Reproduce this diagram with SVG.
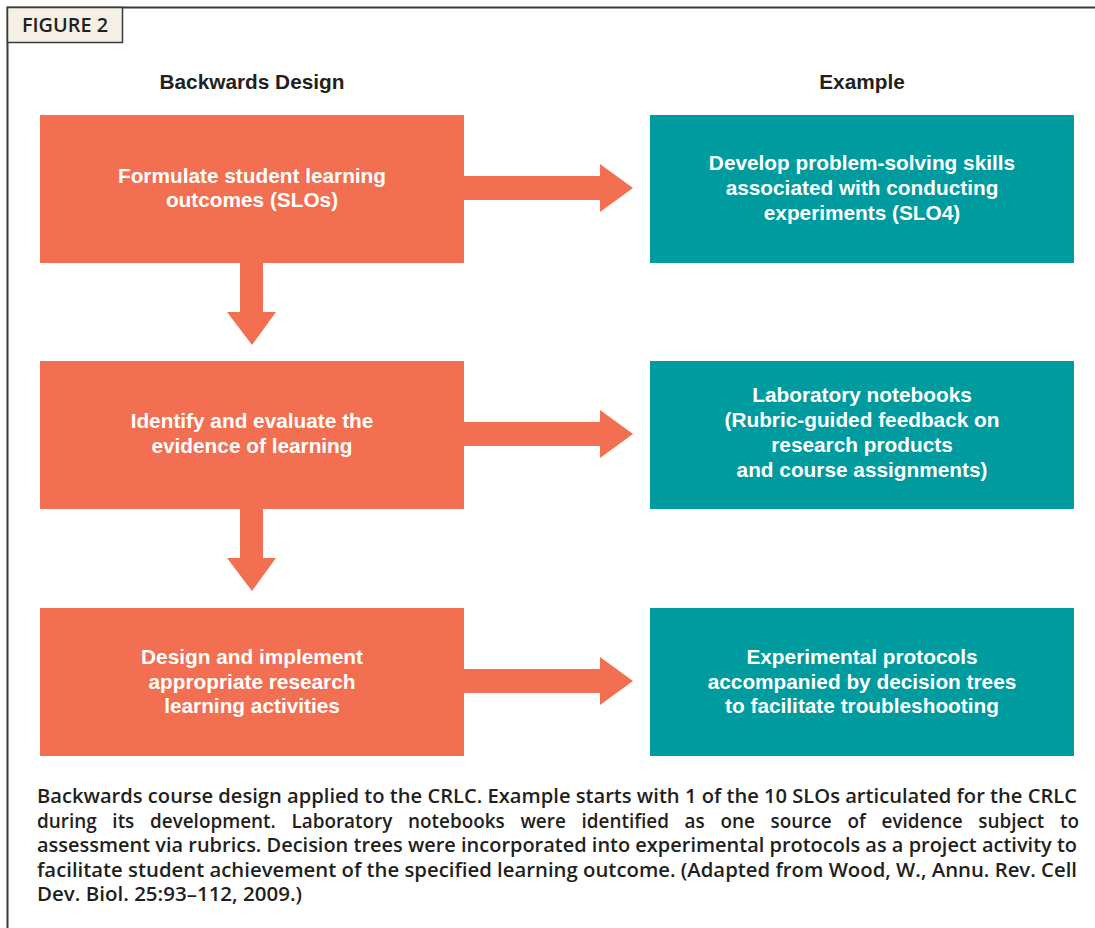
<svg xmlns="http://www.w3.org/2000/svg" width="1095" height="928" viewBox="0 0 1095 928">
<style>
.hdr{font-family:"Liberation Sans",Arial,sans-serif;font-weight:bold;font-size:20.8px;fill:#231f20;text-anchor:middle}
.lbl{font-family:"Liberation Sans",Arial,sans-serif;font-weight:bold;font-size:20.8px;fill:#ffffff;text-anchor:middle}
.cap{font-family:"Open Sans","Noto Sans",sans-serif;font-weight:600;font-size:18.9px;fill:#231f20}
.or{fill:#f26f51}
.te{fill:#009b9f}
</style>
<rect width="1095" height="928" fill="#ffffff"/>
<g id="frame">
<path d="M7.5 928 V7.5 H1095" fill="none" stroke="#3a3a3a" stroke-width="2"/>
<rect x="7.5" y="7.5" width="115" height="35" fill="#f5f0e4" stroke="#3a3a3a" stroke-width="1.5"/>
<text x="22" y="32" font-family="'Open Sans','Noto Sans',sans-serif" font-weight="600" font-size="19" fill="#231f20" textLength="86" lengthAdjust="spacingAndGlyphs">FIGURE 2</text>
</g>
<text class="hdr" x="252" y="89">Backwards Design</text>
<text class="hdr" x="862" y="89">Example</text>
<g id="connectors">
<polygon class="or" points="463,176 600,176 600,164 633,188 600,212 600,200 463,200"/>
<polygon class="or" points="463,422 600,422 600,410 633,434 600,458 600,446 463,446"/>
<polygon class="or" points="463,669 600,669 600,657 633,681 600,705 600,693 463,693"/>
<polygon class="or" points="240,262 263,262 263,312 276,312 252,345 227,312 240,312"/>
<polygon class="or" points="240,508 263,508 263,558 276,558 252,591 227,558 240,558"/>
</g>
<g id="bd1">
<rect class="or" x="40" y="115" width="424" height="148"/>
<text class="lbl" x="252" y="183">Formulate student learning</text>
<text class="lbl" x="252" y="207">outcomes (SLOs)</text>
</g>
<g id="bd2">
<rect class="or" x="40" y="361" width="424" height="148"/>
<text class="lbl" x="252" y="428">Identify and evaluate the</text>
<text class="lbl" x="252" y="453">evidence of learning</text>
</g>
<g id="bd3">
<rect class="or" x="40" y="608" width="424" height="148"/>
<text class="lbl" x="252" y="664">Design and implement</text>
<text class="lbl" x="252" y="689">appropriate research</text>
<text class="lbl" x="252" y="713">learning activities</text>
</g>
<g id="ex1">
<rect class="te" x="650" y="115" width="424" height="148"/>
<text class="lbl" x="862" y="170">Develop problem-solving skills</text>
<text class="lbl" x="862" y="195">associated with conducting</text>
<text class="lbl" x="862" y="220">experiments (SLO4)</text>
</g>
<g id="ex2">
<rect class="te" x="650" y="361" width="424" height="148"/>
<text class="lbl" x="862" y="402">Laboratory notebooks</text>
<text class="lbl" x="862" y="427">(Rubric-guided feedback on</text>
<text class="lbl" x="862" y="452">research products</text>
<text class="lbl" x="862" y="477">and course assignments)</text>
</g>
<g id="ex3">
<rect class="te" x="650" y="608" width="424" height="148"/>
<text class="lbl" x="862" y="664">Experimental protocols</text>
<text class="lbl" x="862" y="689">accompanied by decision trees</text>
<text class="lbl" x="862" y="713">to facilitate troubleshooting</text>
</g>
<g id="caption">
<text class="cap" x="37" y="803" textLength="1040" lengthAdjust="spacingAndGlyphs">Backwards course design applied to the CRLC. Example starts with 1 of the 10 SLOs articulated for the CRLC</text>
<text class="cap" x="37" y="828" word-spacing="10.8">during its development. Laboratory notebooks were identified as one source of evidence subject to</text>
<text class="cap" x="37" y="852" textLength="1040" lengthAdjust="spacingAndGlyphs">assessment via rubrics. Decision trees were incorporated into experimental protocols as a project activity to</text>
<text class="cap" x="37" y="877" textLength="1040" lengthAdjust="spacingAndGlyphs">facilitate student achievement of the specified learning outcome. (Adapted from Wood, W., Annu. Rev. Cell</text>
<text class="cap" x="37" y="901" textLength="265" lengthAdjust="spacingAndGlyphs">Dev. Biol. 25:93–112, 2009.)</text>
</g>
</svg>
